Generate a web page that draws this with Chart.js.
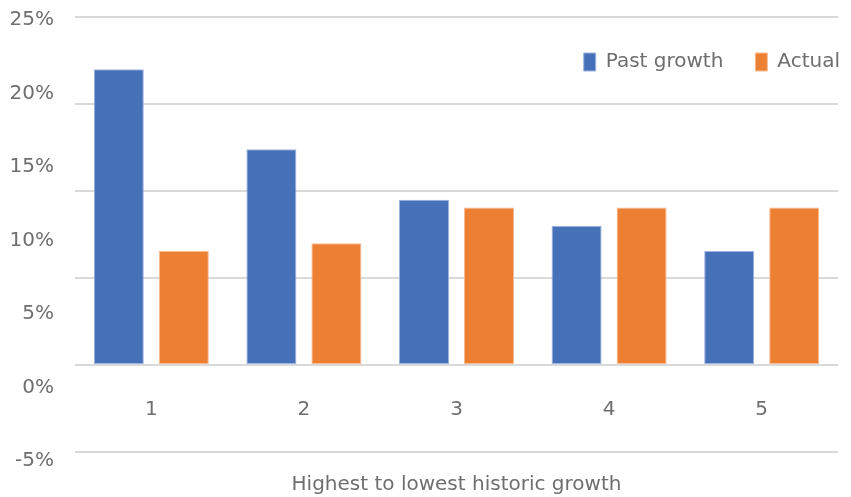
<!DOCTYPE html>
<html>
<head>
<meta charset="utf-8">
<script src="https://cdn.jsdelivr.net/npm/chart.js@4"></script>
<style>
  html, body { margin: 0; padding: 0; background: #ffffff; }
  #wrap { width: 851px; height: 497px; position: relative; }
</style>
</head>
<body>
<div id="wrap"><canvas id="c" width="851" height="497"></canvas></div>
<script>
// Data
const categories = ['1', '2', '3', '4', '5'];
const pastGrowth = [17.0, 12.4, 9.5, 8.0, 6.55];
const actual = [6.55, 7.0, 9.05, 9.05, 9.05];
const seriesNames = ['Past growth', 'Actual'];
const labelTicks = [-5, 0, 5, 10, 15, 20, 25];
const xTitle = 'Highest to lowest historic growth';

const FONT = '"DejaVu Sans", sans-serif';
const FSIZE = 20;
const GRAY = '#6e6e6e';

const legendInArea = {
  id: 'legendInArea',
  beforeLayout(chart) {
    if (chart.legend) { chart.legend.isHorizontal = () => true; }
  },
  afterLayout(chart) {
    const lg = chart.legend, ca = chart.chartArea;
    if (lg) {
      lg.left = ca.left;
      lg.right = ca.right + 34;
      lg.top = ca.top + 3;
      lg.bottom = lg.top + lg.height;
    }
  }
};

new Chart(document.getElementById('c'), {
  type: 'bar',
  data: {
    labels: categories,
    datasets: [
      { label: seriesNames[0], data: pastGrowth, backgroundColor: '#4671b9', borderColor: '#9db4e0', borderWidth: 1, borderSkipped: false, yAxisID: 'y' },
      { label: seriesNames[1], data: actual, backgroundColor: '#ed7f32', borderColor: '#f6bb93', borderWidth: 1, borderSkipped: false, yAxisID: 'y' }
    ]
  },
  options: {
    responsive: false,
    animation: false,
    devicePixelRatio: 1,
    layout: { padding: { top: 17, right: 13, left: 0, bottom: 0 } },
    datasets: { bar: { categoryPercentage: 0.852, barPercentage: 0.77 } },
    scales: {
      x: {
        position: { y: 0 },
        grid: { display: false, drawTicks: false },
        border: { display: false },
        ticks: { color: GRAY, font: { family: FONT, size: FSIZE }, padding: 33 }
      },
      y2: {
        position: 'left',
        min: -4.6, max: 25,
        weight: 2,
        afterBuildTicks(axis) { axis.ticks = labelTicks.map(v => ({ value: v })); },
        grid: { display: false, drawTicks: true, tickLength: 21 },
        border: { display: false },
        ticks: { color: GRAY, font: { family: FONT, size: FSIZE }, padding: 0, labelOffset: 3, callback: v => v + '%' },
        afterFit(axis) { axis.width = 75; }
      },
      y: {
        position: 'left',
        min: -5, max: 20,
        weight: 1,
        ticks: { display: false, stepSize: 5, padding: 0 },
        grid: { color: '#d9d9d9', lineWidth: 2, drawTicks: false },
        border: { display: false },
        afterFit(axis) { axis.width = 0; }
      }
    },
    plugins: {
      legend: {
        position: 'chartArea',
        align: 'end',
        labels: { boxWidth: 12, boxHeight: 18, padding: 32, color: GRAY, font: { family: FONT, size: FSIZE } }
      },
      title: {
        display: true,
        position: 'bottom',
        fullSize: false,
        text: xTitle,
        color: GRAY,
        font: { family: FONT, size: FSIZE, weight: 'normal', lineHeight: 1.2 },
        padding: { top: 21, bottom: 0 }
      },
      tooltip: { enabled: false }
    }
  },
  plugins: [legendInArea]
});
</script>
</body>
</html>
